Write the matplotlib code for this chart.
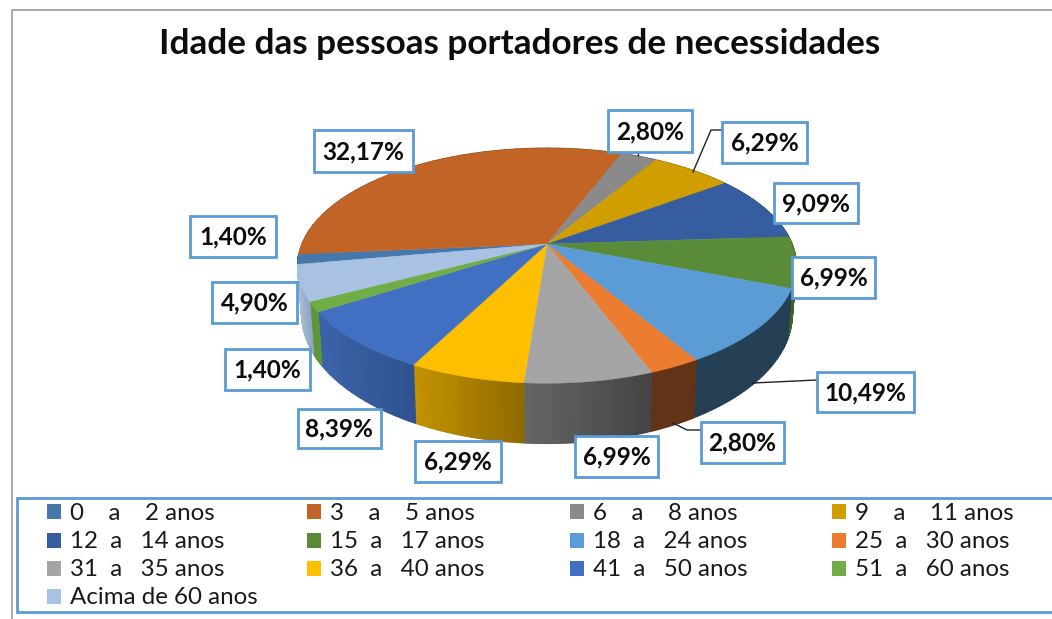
import numpy as np
import matplotlib
matplotlib.use('Agg')
import matplotlib.pyplot as plt
from matplotlib.colors import to_rgb
from matplotlib.patches import Rectangle

plt.rcParams['font.family'] = ['Lato', 'DejaVu Sans']

title = 'Idade das pessoas portadores de necessidades'
categorias = ['0    a    2 anos', '3    a    5 anos', '6    a    8 anos', '9    a    11 anos',
              '12  a   14 anos', '15  a   17 anos', '18  a   24 anos', '25  a   30 anos',
              '31  a   35 anos', '36  a   40 anos', '41  a   50 anos', '51  a   60 anos',
              'Acima de 60 anos']
valores = [1.40, 32.17, 2.80, 6.29, 9.09, 6.99, 10.49, 2.80, 6.99, 6.29, 8.39, 1.40, 4.90]
cores = ['#4579ab', '#c26426', '#8a8a8a', '#d19e00', '#365d9f', '#5a8b38', '#5b9bd6',
         '#ec7c30', '#a5a5a5', '#fdbf00', '#4170c2', '#70ad47', '#a9c1e3']
# cor da parede lateral: esquerda -> direita
paredes = [('#3c6488', '#3c6488'), ('#8a4a1c', '#8a4a1c'), ('#666666', '#666666'), ('#9a7400', '#9a7400'),
           ('#27446f', '#27446f'), ('#3f6428', '#3f6428'), ('#253f55', '#253f55'),
           ('#623316', '#623316'), ('#666666', '#444444'), ('#c49300', '#8f6b00'),
           ('#3c64aa', '#30518f'), ('#5f963a', '#5f963a'), ('#a6bad6', '#8fa5c2')]

# layout em pixels
caixas = [(190, 216, 276, 257), (314, 130, 413, 172), (608, 110, 692, 152), (722, 122, 807, 163),
          (774, 183, 858, 223), (792, 257, 875, 298), (817, 372, 914, 412), (701, 422, 784, 463),
          (575, 436, 658, 477), (415, 441, 501, 482), (298, 409, 381, 448), (225, 349, 310, 390),
          (212, 282, 297, 323)]
linhas = [[(638, 155), (638, 152)], [(693, 172), (711, 130), (722, 130)], [(793, 270), (793, 296)],
          [(753, 383), (817, 380)], [(673, 423), (687, 430), (701, 430)]]
cx, cy, A, B, k = 547, 244, 245, 113.5, 0.185
cy2, A2, B2 = 290, 241, 125
inicio = 190.0


def topo(t):
    x, y = np.cos(t), np.sin(t)
    d = 1 + k * y
    return cx + A * x / d, cy - B * y / d


def base(t):
    x, y = np.cos(t), np.sin(t)
    d = 1 + k * y
    return cx + A2 * x / d, cy2 - B2 * y / d


fig = plt.figure(figsize=(10.52, 6.19), dpi=100)
ax = fig.add_axes([0, 0, 1, 1])
ax.set_xlim(0, 1052)
ax.set_ylim(619, 0)
ax.axis('off')

# moldura externa
ax.plot([11.5, 11.5, 1052], [619, 9.5, 9.5], color='#9a9a9a', lw=1.2)

total = sum(valores)
fim = np.radians(inicio) - np.cumsum(valores) / total * 2 * np.pi
ini = np.concatenate([[np.radians(inicio)], fim[:-1]])

# paredes laterais
for a, b, par in zip(ini, fim, paredes):
    ts = np.linspace(a, b, 40)
    x_ref = topo(ts)[0]
    c0, c1 = np.array(to_rgb(par[0])), np.array(to_rgb(par[1]))
    for i in range(len(ts) - 1):
        f = (x_ref[i] - x_ref.min()) / max(x_ref.max() - x_ref.min(), 1)
        xt, yt = topo(ts[i:i + 2])
        xb, yb = base(ts[i:i + 2])
        cor = c0 + (c1 - c0) * f
        ax.fill(np.r_[xt, xb[::-1]], np.r_[yt, yb[::-1]], fc=cor, ec=cor, lw=1.0, joinstyle='round')

# fatias do topo
for a, b, cor in zip(ini, fim, cores):
    ts = np.linspace(a, b, 60)
    xt, yt = topo(ts)
    ax.fill(np.r_[cx, xt], np.r_[cy, yt], color=cor, lw=0.3)

for ln in linhas:
    ax.plot(*zip(*ln), color='#222222', lw=1, zorder=4)

for (x0, y0, x1, y1), v in zip(caixas, valores):
    ax.add_patch(Rectangle((x0, y0), x1 - x0, y1 - y0, fc='white', ec='#5b9bd5', lw=2, zorder=5))
    ax.text((x0 + x1) / 2, (y0 + y1) / 2 + 0.5, f'{v:.2f}%'.replace('.', ','), ha='center', va='center',
            fontsize=17.6, fontweight='bold', color='#0d0d0d', zorder=6)

ax.text(520, 44.5, title, ha='center', va='center', fontsize=25.3, fontweight='bold', color='#0d0d0d')

# legenda
ax.add_patch(Rectangle((17, 497.5), 1040, 114, fc='white', ec='#5b9bd5', lw=2, zorder=3))
col_x = [47, 307, 570, 832]
lin_y = [511, 539.5, 568, 596]
for i, (nome, cor) in enumerate(zip(categorias, cores)):
    x = col_x[i % 4]
    y = lin_y[i // 4]
    ax.add_patch(Rectangle((x, y - 7), 14, 15, fc=cor, ec='none', zorder=4))
    ax.text(x + 23, y + 2, nome, ha='left', va='center', fontsize=17.4, color='#1a1a1a', zorder=4)

fig.savefig('out.png', dpi=100)
